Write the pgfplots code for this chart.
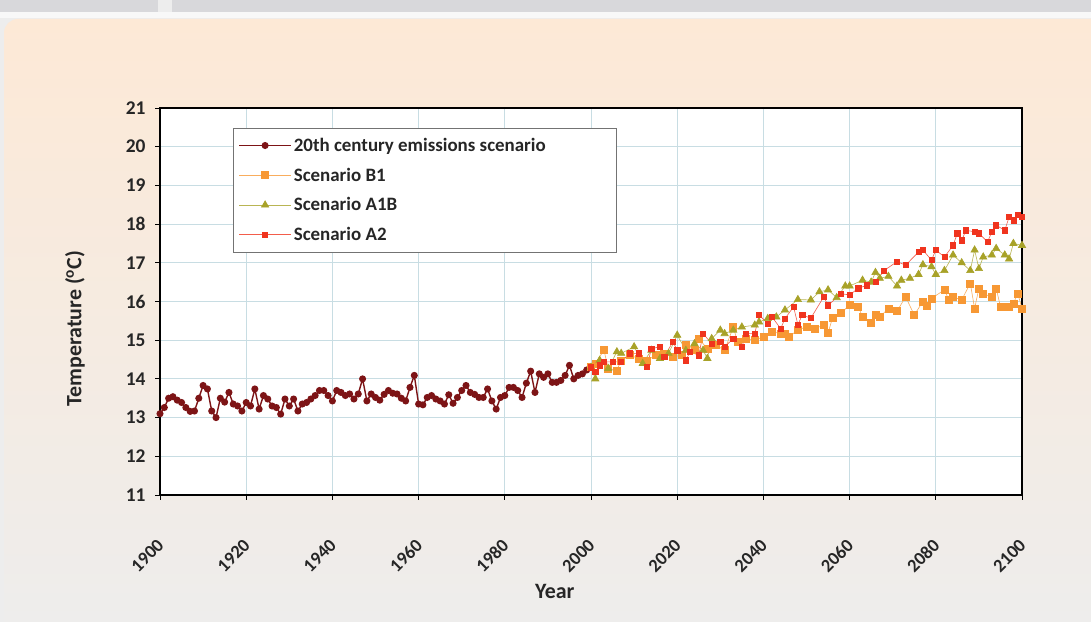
\documentclass[border=0pt]{standalone}
\usepackage{fontspec}
\setmainfont{Carlito}
\usepackage{pgfplots}
\pgfplotsset{compat=1.18}
\usepackage{pgfplotstable}

\definecolor{histred}{RGB}{125,20,22}
\definecolor{bone}{RGB}{247,152,52}
\definecolor{aoneb}{RGB}{168,162,40}
\definecolor{atwo}{RGB}{240,52,30}
\definecolor{gridc}{RGB}{200,221,227}
\definecolor{peach}{RGB}{253,233,214}
\definecolor{panelgray}{RGB}{237,237,237}
\definecolor{stripgray}{RGB}{216,216,219}

% observed 20th-century temperatures
\pgfplotstableread{
year T
1900 13.10
1901 13.26
1902 13.50
1903 13.54
1904 13.45
1905 13.39
1906 13.26
1907 13.16
1908 13.17
1909 13.50
1910 13.83
1911 13.74
1912 13.17
1913 13.00
1914 13.50
1915 13.40
1916 13.65
1917 13.35
1918 13.30
1919 13.17
1920 13.39
1921 13.30
1922 13.74
1923 13.22
1924 13.57
1925 13.48
1926 13.30
1927 13.26
1928 13.09
1929 13.48
1930 13.30
1931 13.48
1932 13.17
1933 13.35
1934 13.39
1935 13.48
1936 13.57
1937 13.70
1938 13.70
1939 13.57
1940 13.43
1941 13.70
1942 13.65
1943 13.57
1944 13.61
1945 13.48
1946 13.61
1947 14.00
1948 13.43
1949 13.61
1950 13.52
1951 13.45
1952 13.60
1953 13.70
1954 13.63
1955 13.61
1956 13.50
1957 13.43
1958 13.78
1959 14.09
1960 13.35
1961 13.33
1962 13.52
1963 13.57
1964 13.48
1965 13.43
1966 13.35
1967 13.59
1968 13.37
1969 13.52
1970 13.70
1971 13.83
1972 13.65
1973 13.60
1974 13.52
1975 13.52
1976 13.74
1977 13.43
1978 13.22
1979 13.52
1980 13.57
1981 13.78
1982 13.78
1983 13.70
1984 13.52
1985 13.89
1986 14.20
1987 13.65
1988 14.13
1989 14.04
1990 14.13
1991 13.91
1992 13.91
1993 13.96
1994 14.09
1995 14.35
1996 14.00
1997 14.09
1998 14.13
1999 14.23
2000 14.30
}\histdata

% scenario B1
\pgfplotstableread{
year T
2000 14.30
2001 14.40
2003 14.74
2004 14.27
2006 14.22
2007 14.48
2009 14.61
2011 14.53
2013 14.48
2015 14.61
2017 14.66
2019 14.57
2021 14.61
2022 14.87
2024 14.74
2025 15.04
2027 14.78
2029 14.87
2031 14.74
2033 15.34
2034 14.96
2036 15.04
2038 15.00
2040 15.09
2042 15.22
2044 15.17
2045 15.17
2046 15.10
2048 15.26
2050 15.35
2052 15.30
2054 15.39
2055 15.18
2056 15.57
2058 15.70
2060 15.91
2062 15.87
2063 15.60
2065 15.44
2066 15.65
2067 15.60
2069 15.82
2071 15.75
2073 16.12
2075 15.65
2077 16.00
2078 15.90
2079 16.08
2082 16.30
2083 16.05
2084 16.12
2086 16.04
2088 16.47
2089 15.82
2090 16.34
2091 16.20
2093 16.12
2094 16.34
2095 15.87
2097 15.87
2098 15.95
2099 16.21
2100 15.82
}\bonedata

% scenario A1B
\pgfplotstableread{
year T
2000 14.30
2001 14.00
2002 14.48
2004 14.27
2006 14.70
2007 14.66
2010 14.83
2012 14.40
2014 14.74
2016 14.53
2018 14.66
2020 15.13
2022 14.74
2024 14.91
2026 14.74
2027 14.53
2028 15.04
2030 15.26
2031 15.17
2033 15.26
2035 15.34
2038 15.39
2039 15.47
2041 15.56
2043 15.60
2045 15.78
2048 16.05
2051 16.04
2053 16.25
2055 16.30
2057 16.10
2059 16.40
2060 16.40
2063 16.55
2065 16.50
2066 16.75
2067 16.60
2069 16.65
2071 16.40
2072 16.55
2074 16.60
2076 16.70
2077 16.95
2079 16.90
2080 16.70
2082 16.80
2084 17.20
2086 17.00
2088 16.80
2089 17.33
2090 16.85
2091 17.15
2093 17.20
2094 17.37
2096 17.20
2097 17.10
2098 17.50
2100 17.45
}\aonebdata

% scenario A2
\pgfplotstableread{
year T
2000 14.30
2001 14.18
2002 14.35
2003 14.44
2005 14.44
2007 14.44
2009 14.66
2011 14.66
2013 14.31
2014 14.78
2016 14.83
2017 14.57
2019 14.96
2020 14.74
2022 14.48
2023 14.70
2025 14.61
2026 15.17
2028 14.91
2030 14.96
2031 14.83
2033 15.04
2035 14.83
2036 15.17
2038 15.17
2039 15.65
2041 15.43
2042 15.60
2044 15.30
2045 15.56
2047 15.86
2048 15.40
2049 15.65
2051 15.57
2054 16.12
2055 15.90
2058 16.20
2060 16.17
2062 16.34
2064 16.42
2066 16.50
2068 16.80
2071 17.03
2073 16.94
2076 17.28
2077 17.33
2079 17.07
2080 17.33
2082 17.15
2084 17.45
2085 17.76
2086 17.58
2087 17.84
2089 17.80
2090 17.76
2092 17.54
2093 17.80
2094 17.97
2096 17.84
2097 18.18
2098 18.10
2099 18.23
2100 18.18
}\atwodata

\begin{document}
\begin{tikzpicture}[x=1bp,y=1bp]
% page background, top strip and shaded panel
\fill[panelgray] (0,0) rectangle (1091,622);
\fill[stripgray] (0,610) rectangle (158,622);
\fill[stripgray] (172,610) rectangle (1091,622);
\fill[white!60!panelgray] (0,604) rectangle (1091,610);
\shade[top color=peach, bottom color=panelgray, rounded corners=14bp]
  (4,-30) rectangle (1120,603);

\begin{axis}[
  at={(160bp,127bp)}, anchor=south west,
  scale only axis, width=862bp, height=387bp,
  xmin=1900, xmax=2100, ymin=11, ymax=21,
  xtick={1900,1920,...,2100}, ytick={11,12,...,21},
  grid=major,
  major grid style={gridc, line width=1bp},
  axis line style={black, line width=1.8bp},
  axis background/.style={fill=white},
  tick align=outside, tick pos=left,
  major tick length=5bp,
  tick style={black, line width=0.8bp},
  /pgf/number format/assume math mode=true,
  /pgf/number format/1000 sep={},
  ticklabel style={text=black!85},
  xticklabel style={font=\bfseries\fontsize{18.5}{18.5}\selectfont,
    xshift=3bp, yshift=-40bp, rotate=45, anchor=east},
  yticklabel style={font=\bfseries\fontsize{19.5}{19.5}\selectfont, xshift=-6bp},
  xlabel={Year},
  ylabel={Temperature (\textsuperscript{o}C)},
  label style={font=\bfseries\fontsize{22}{22}\selectfont, text=black!85},
  xlabel style={at={(axis description cs:0.458,-0.25)}, anchor=center},
  ylabel style={at={(axis description cs:-0.0986,0.43)}, anchor=center},
  legend style={
    at={(axis description cs:0.0847,0.949)}, anchor=north west,
    draw=black!55, line width=0.8bp, fill=white,
    font=\bfseries\fontsize{19}{19}\selectfont, text=black!85,
    row sep=11bp, inner xsep=5bp, inner ysep=8bp,
  },
  legend cell align=left,
  legend image code/.code={%
    \draw[mark repeat=2, mark phase=2]
      plot coordinates {(0bp,0bp) (26bp,0bp) (52bp,0bp)};},
]
\addplot[histred, line width=1.4bp, mark=*, mark size=2.8bp,
  mark options={fill=histred, draw=histred}]
  table[x=year, y=T] {\histdata};
\addlegendentry{20th century emissions scenario\hspace*{64bp}\mbox{}}

\addplot[bone!80, line width=0.6bp, mark=square*, mark size=3.5bp,
  mark options={fill=bone, draw=bone}]
  table[x=year, y=T] {\bonedata};
\addlegendentry{Scenario B1}

\addplot[aoneb!80, line width=0.6bp, mark=triangle*, mark size=4.2bp,
  mark options={fill=aoneb, draw=aoneb}]
  table[x=year, y=T] {\aonebdata};
\addlegendentry{Scenario A1B}

\addplot[atwo!80, line width=0.6bp, mark=square*, mark size=2.6bp,
  mark options={fill=atwo, draw=atwo}]
  table[x=year, y=T] {\atwodata};
\addlegendentry{Scenario A2}
\end{axis}

\pgfresetboundingbox
\path (0,0) rectangle (1091,622);
\end{tikzpicture}
\end{document}
